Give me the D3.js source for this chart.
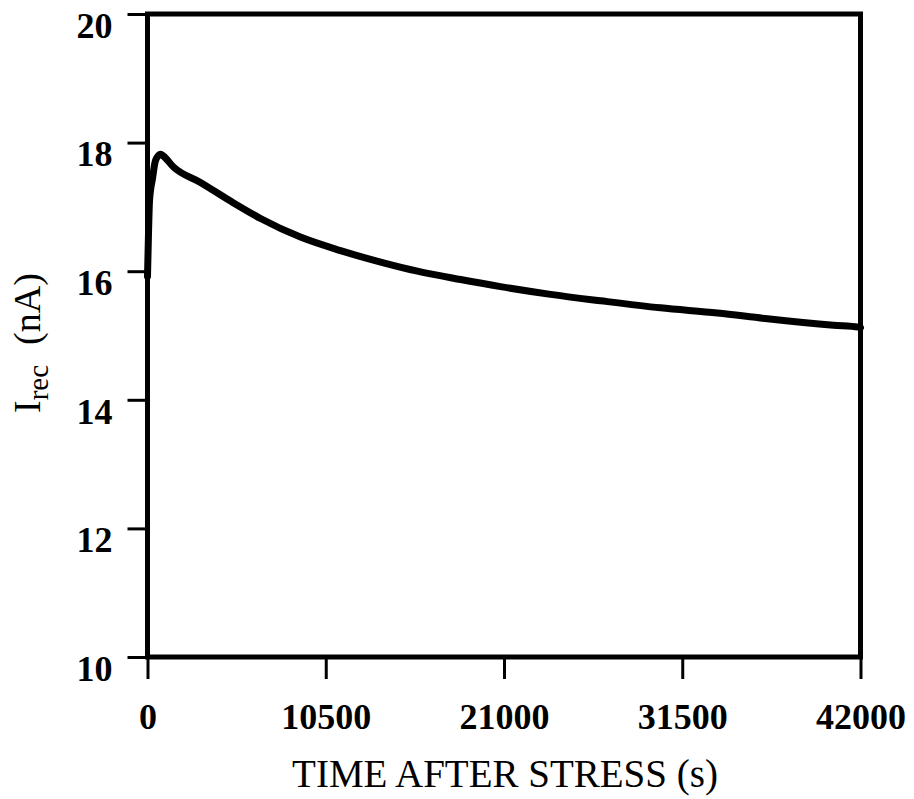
<!DOCTYPE html>
<html>
<head>
<meta charset="utf-8">
<script src="https://cdn.jsdelivr.net/npm/d3@7"></script>
<style>
  html, body { margin: 0; padding: 0; background: #fff; }
  svg { display: block; }
</style>
</head>
<body>
<svg id="chart" width="914" height="799"></svg>
<script>
// Recovery current after stress, sampled over time (s -> nA)
const timeSec = [0, 60, 120, 300, 470, 770, 940, 1530, 3120, 4890, 6660, 9010,
  11370, 13900, 15900, 18440, 20790, 23740, 26690, 30220, 33580, 36520, 40410, 41880, 42000];
const currentNA = [15.92, 16.6, 17.1, 17.45, 17.72, 17.82, 17.79, 17.62, 17.38, 17.09, 16.82, 16.53,
  16.32, 16.13, 16.0, 15.87, 15.76, 15.64, 15.54, 15.43, 15.35, 15.26, 15.16, 15.13, 15.12];
const xTicks = [0, 10500, 21000, 31500, 42000];
const yTicks = [10, 12, 14, 16, 18, 20];

const svg = d3.select("#chart");
const plotLeft = 147.5, plotRight = 860.5, plotTop = 14, plotBottom = 657;

const x = d3.scaleLinear().domain([0, 42000]).range([plotLeft, plotRight]);
const y = d3.scaleLinear().domain([10, 20]).range([plotBottom, plotTop]);

const serif = "'Liberation Serif', 'Times New Roman', serif";

// Y axis ticks and labels
const yAxis = svg.append("g")
  .attr("transform", `translate(${plotLeft},0)`)
  .call(d3.axisLeft(y).tickValues(yTicks).tickSize(20).tickSizeOuter(0).tickPadding(15));
yAxis.select(".domain").remove();
yAxis.selectAll(".tick line").attr("stroke", "#000").attr("stroke-width", 3);
yAxis.selectAll(".tick text")
  .attr("font-family", serif).attr("font-weight", "bold").attr("font-size", 36)
  .attr("fill", "#000").attr("dy", "0.7em").attr("y", -2);

// X axis ticks and labels
const xAxis = svg.append("g")
  .attr("transform", `translate(0,${plotBottom})`)
  .call(d3.axisBottom(x).tickValues(xTicks).tickFormat(d3.format("d")).tickSize(22).tickSizeOuter(0).tickPadding(24));
xAxis.select(".domain").remove();
xAxis.selectAll(".tick line").attr("stroke", "#000").attr("stroke-width", 3);
xAxis.selectAll(".tick text")
  .attr("font-family", serif).attr("font-weight", "bold").attr("font-size", 36)
  .attr("fill", "#000");

// Plot frame
svg.append("rect")
  .attr("x", plotLeft).attr("y", plotTop)
  .attr("width", plotRight - plotLeft).attr("height", plotBottom - plotTop)
  .attr("fill", "none").attr("stroke", "#000").attr("stroke-width", 5);

// Recovery current curve
const line = d3.line()
  .x((d, i) => x(timeSec[i]))
  .y((d, i) => y(currentNA[i]))
  .curve(d3.curveMonotoneX);
svg.append("path")
  .datum(currentNA)
  .attr("d", line)
  .attr("fill", "none")
  .attr("stroke", "#000")
  .attr("stroke-width", 7)
  .attr("stroke-linejoin", "round")
  .attr("stroke-linecap", "round");

// X axis title
svg.append("text")
  .attr("x", 505).attr("y", 787)
  .attr("text-anchor", "middle")
  .attr("font-family", serif).attr("font-size", 39)
  .attr("fill", "#000")
  .text("TIME AFTER STRESS (s)");

// Y axis title: I_rec (nA)
const yTitle = svg.append("text")
  .attr("transform", "translate(40,413) rotate(-90)")
  .attr("text-anchor", "start")
  .attr("font-family", serif).attr("font-size", 38)
  .attr("fill", "#000");
yTitle.append("tspan").text("I");
yTitle.append("tspan").attr("font-size", 29).attr("dy", 8).text("rec");
yTitle.append("tspan").attr("dy", -8).attr("dx", 20).text("(nA)");
</script>
</body>
</html>
